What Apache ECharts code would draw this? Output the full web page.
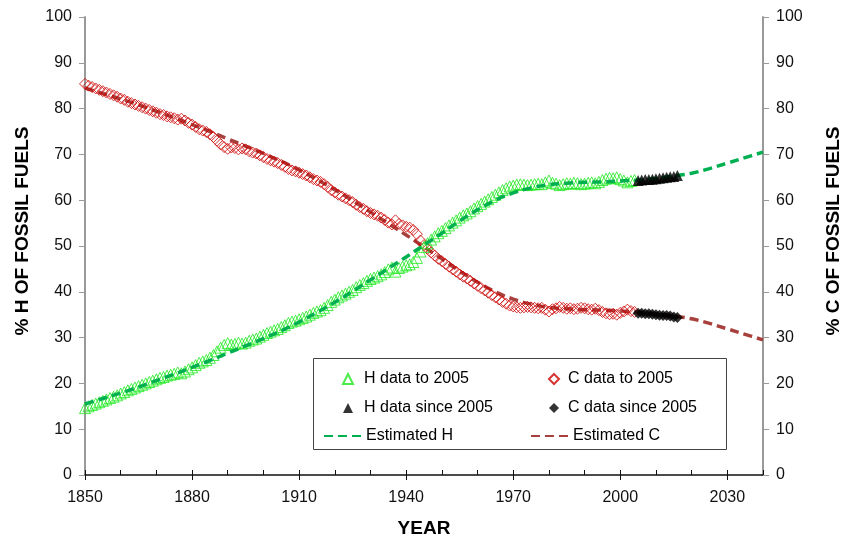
<!DOCTYPE html>
<html>
<head>
<meta charset="utf-8">
<script src="https://cdn.jsdelivr.net/npm/echarts@6/dist/echarts.min.js"></script>
<style>
  html, body { margin: 0; padding: 0; background: #fff; }
  #chart { width: 853px; height: 543px; }
</style>
</head>
<body>
<div id="chart"></div>
<script>
const FONT = "'Liberation Sans', Arial, Helvetica, sans-serif";

// Annual shares of fossil fuels, 1850 through 2004 (%)
const histStart = 1850;
const hHist = [
  14.6, 15.0, 15.3, 15.6, 15.9, 16.2, 16.5, 16.8, 17.1, 17.4,
  17.8, 18.1, 18.5, 18.8, 19.1, 19.4, 19.7, 20.0, 20.3, 20.6,
  20.9, 21.2, 21.4, 21.7, 21.9, 22.1, 22.4, 22.2, 22.6, 23.1,
  23.5, 24.0, 24.5, 24.8, 25.1, 25.6, 26.2, 27.0, 27.8, 28.4,
  28.8, 28.5, 28.6, 28.9, 28.7, 28.9, 29.3, 29.6, 29.8, 30.2,
  30.6, 31.0, 31.3, 31.6, 31.9, 32.3, 32.7, 33.2, 33.5, 33.7,
  34.0, 34.3, 34.6, 35.0, 35.4, 35.7, 36.0, 36.5, 37.1, 37.8,
  38.3, 38.8, 39.2, 39.6, 40.0, 40.4, 41.0, 41.5, 41.9, 42.4,
  42.8, 43.1, 43.4, 43.8, 44.3, 44.9, 45.3, 44.4, 45.2, 45.5,
  45.8, 46.0, 46.5, 47.4, 48.8, 49.8, 50.6, 51.4, 52.1, 52.8,
  53.3, 53.9, 54.5, 55.1, 55.6, 56.2, 56.7, 57.1, 57.6, 58.2,
  58.7, 59.2, 59.7, 60.2, 60.7, 61.2, 61.7, 62.2, 62.6, 63.0,
  63.2, 63.4, 63.5, 63.4, 63.3, 63.4, 63.5, 63.6, 63.5, 63.9,
  64.3, 63.8, 63.6, 63.3, 63.5, 63.7, 63.6, 63.8, 63.7, 63.5,
  63.6, 63.8, 63.9, 63.7, 64.0, 64.4, 64.7, 64.9, 64.8, 65.0,
  64.6, 64.3, 63.9, 64.2, 64.4
];
const cHist = [
  85.4, 85.0, 84.7, 84.4, 84.1, 83.8, 83.5, 83.2, 82.9, 82.6,
  82.2, 81.9, 81.5, 81.2, 80.9, 80.6, 80.3, 80.0, 79.7, 79.4,
  79.1, 78.8, 78.6, 78.3, 78.1, 77.9, 77.6, 77.8, 77.4, 76.9,
  76.5, 76.0, 75.5, 75.2, 74.9, 74.4, 73.8, 73.0, 72.2, 71.6,
  71.2, 71.5, 71.4, 71.1, 71.3, 71.1, 70.7, 70.4, 70.2, 69.8,
  69.4, 69.0, 68.7, 68.4, 68.1, 67.7, 67.3, 66.8, 66.5, 66.3,
  66.0, 65.7, 65.4, 65.0, 64.6, 64.3, 64.0, 63.5, 62.9, 62.2,
  61.7, 61.2, 60.8, 60.4, 60.0, 59.6, 59.0, 58.5, 58.1, 57.6,
  57.2, 56.9, 56.6, 56.2, 55.7, 55.1, 54.7, 55.6, 54.8, 54.5,
  54.2, 54.0, 53.5, 52.6, 51.2, 50.2, 49.4, 48.6, 47.9, 47.2,
  46.7, 46.1, 45.5, 44.9, 44.4, 43.8, 43.3, 42.9, 42.4, 41.8,
  41.3, 40.8, 40.3, 39.8, 39.3, 38.8, 38.3, 37.8, 37.4, 37.0,
  36.8, 36.6, 36.5, 36.6, 36.7, 36.6, 36.5, 36.4, 36.5, 36.1,
  35.7, 36.2, 36.4, 36.7, 36.5, 36.3, 36.4, 36.2, 36.3, 36.5,
  36.4, 36.2, 36.1, 36.3, 36.0, 35.6, 35.3, 35.1, 35.2, 35.0,
  35.4, 35.7, 36.1, 35.8, 35.6
];

// Annual shares since 2005 (%)
const recentStart = 2005;
const hRecent = [64.3, 64.4, 64.5, 64.5, 64.6, 64.7, 64.8, 64.9, 65.0, 65.1, 65.2, 65.4];
const cRecent = [35.3, 35.3, 35.2, 35.2, 35.1, 35.0, 34.9, 34.8, 34.8, 34.7, 34.5, 34.4];

// Fitted trend, every five years to 2040 (%)
const fitYears = [
  1850, 1855, 1860, 1865, 1870, 1875, 1880, 1885, 1890, 1895,
  1900, 1905, 1910, 1915, 1920, 1925, 1930, 1935, 1940, 1945,
  1950, 1955, 1960, 1965, 1970, 1975, 1980, 1985, 1990, 1995,
  2000, 2005, 2010, 2015, 2020, 2025, 2030, 2035, 2040
];
const hFit = [
  15.5, 16.7, 17.9, 19.2, 20.6, 22.0, 23.5, 25.0, 26.6, 28.2,
  29.8, 31.5, 33.4, 35.5, 37.7, 40.1, 42.6, 45.1, 47.6, 50.2,
  52.8, 55.5, 57.9, 60.0, 61.6, 62.7, 63.4, 63.7, 63.9, 64.0,
  64.2, 64.4, 64.8, 65.3, 65.9, 66.9, 68.1, 69.3, 70.5
];
const cFit = [
  84.5, 83.3, 82.1, 80.8, 79.4, 78.0, 76.5, 75.0, 73.4, 71.8,
  70.2, 68.5, 66.6, 64.5, 62.3, 59.9, 57.4, 54.9, 52.4, 49.8,
  47.2, 44.5, 42.1, 40.0, 38.4, 37.3, 36.6, 36.3, 36.1, 36.0,
  35.8, 35.6, 35.2, 34.7, 34.1, 33.1, 31.9, 30.7, 29.5
];

// Labelled years on the horizontal axis
const yearLabels = [1850, 1880, 1910, 1940, 1970, 2000, 2030];

const annual = (start, vals) => vals.map((v, i) => [start + i, v]);
const paired = (xs, vals) => vals.map((v, i) => [xs[i], v]);

const GREEN_MARK = '#1ee81e';
const RED_MARK = '#cc0000';
const GREEN_FIT = '#00b050';
const RED_FIT = '#a8403d';
const AXIS_GRAY = '#9a9a9a';

const chart = echarts.init(document.getElementById('chart'), null, { renderer: 'canvas' });

const titleStyle = { fontFamily: FONT, fontSize: 19, fontWeight: 'bold', color: '#000' };
// vertical titles sit a little above the middle of the axis
const sideTitleStyle = Object.assign({ padding: [0, 0, 0, 30] }, titleStyle);
const tickLabelStyle = { fontFamily: FONT, fontSize: 16, color: '#111' };

function yAxisDef(position, name, gap) {
  return {
    type: 'value', position, min: 0, max: 100, interval: 10,
    name, nameLocation: 'middle', nameRotate: 90, nameGap: gap,
    nameTextStyle: sideTitleStyle,
    axisLine: { show: true, lineStyle: { color: AXIS_GRAY, width: 2 } },
    axisTick: { show: true, length: 6, lineStyle: { color: AXIS_GRAY, width: 1 } },
    axisLabel: Object.assign({ margin: 13 }, tickLabelStyle),
    splitLine: { show: false }
  };
}

// Legend blocks: marker rows and dashed-line rows for each column
function legendBlock(left, top, names, iconWidth, textPad) {
  return {
    orient: 'vertical', left, top, padding: 0,
    itemWidth: iconWidth, itemHeight: 10, itemGap: 13,
    textStyle: { fontFamily: FONT, fontSize: 16, color: '#000', padding: [0, 0, 0, textPad] },
    selectedMode: false, z: 6,
    data: names
  };
}

chart.setOption({
  animation: false,
  backgroundColor: '#fff',
  grid: { left: 85, right: 90, top: 17, bottom: 67, containLabel: false },
  graphic: [{
    type: 'rect', z: 5,
    shape: { x: 313.5, y: 358.5, width: 413, height: 91 },
    style: { fill: '#fff', stroke: '#444', lineWidth: 1 }
  }],
  legend: [
    legendBlock(342, 371, ['H data to 2005', 'H data since 2005'], 10, 6),
    legendBlock(548, 371, ['C data to 2005', 'C data since 2005'], 10, 4),
    legendBlock(323, 428, [{ name: 'Estimated H', itemStyle: { opacity: 0 } }], 37, 0),
    legendBlock(530, 428, [{ name: 'Estimated C', itemStyle: { opacity: 0 } }], 37, 0)
  ],
  xAxis: [
    {
      type: 'value', min: 1850, max: 2040, interval: 10,
      name: 'YEAR', nameLocation: 'middle', nameGap: 44, nameTextStyle: titleStyle,
      axisLine: { show: true, lineStyle: { color: '#111', width: 1.5 } },
      axisTick: { show: true, inside: true, length: 5, lineStyle: { color: '#111' } },
      axisLabel: { show: false },
      splitLine: { show: false }
    },
    {
      type: 'value', min: 1850, max: 2040, position: 'bottom',
      axisLine: { show: false },
      axisTick: { show: true, length: 5, customValues: yearLabels, lineStyle: { color: '#111' } },
      axisLabel: Object.assign({ margin: 15, customValues: yearLabels, formatter: v => String(v) }, tickLabelStyle),
      splitLine: { show: false }
    }
  ],
  yAxis: [
    yAxisDef('left', '% H OF FOSSIL FUELS', 53),
    yAxisDef('right', '% C OF FOSSIL FUELS', 61)
  ],
  series: [
    {
      name: 'Estimated C', type: 'line', z: 1,
      data: paired(fitYears, cFit), smooth: 0.4, symbol: 'none',
      lineStyle: { color: RED_FIT, width: 3.5, type: [9, 5] },
      itemStyle: { color: RED_FIT }
    },
    {
      name: 'C data to 2005', type: 'scatter', z: 2,
      data: annual(histStart, cHist), symbol: 'diamond', symbolSize: 11,
      itemStyle: { color: 'rgba(0,0,0,0)', borderColor: RED_MARK, borderWidth: 1 }
    },
    {
      name: 'H data to 2005', type: 'scatter', z: 3,
      data: annual(histStart, hHist), symbol: 'triangle', symbolSize: 11,
      itemStyle: { color: 'rgba(0,0,0,0)', borderColor: GREEN_MARK, borderWidth: 1 }
    },
    {
      name: 'Estimated H', type: 'line', z: 4,
      data: paired(fitYears, hFit), smooth: 0.4, symbol: 'none',
      lineStyle: { color: GREEN_FIT, width: 3.5, type: [9, 5] },
      itemStyle: { color: GREEN_FIT }
    },
    {
      name: 'H data since 2005', type: 'scatter', z: 5,
      data: annual(recentStart, hRecent), symbol: 'triangle', symbolSize: 11,
      itemStyle: { color: '#000' }
    },
    {
      name: 'C data since 2005', type: 'scatter', z: 5,
      data: annual(recentStart, cRecent), symbol: 'diamond', symbolSize: 11,
      itemStyle: { color: '#000' }
    }
  ]
});
</script>
</body>
</html>
